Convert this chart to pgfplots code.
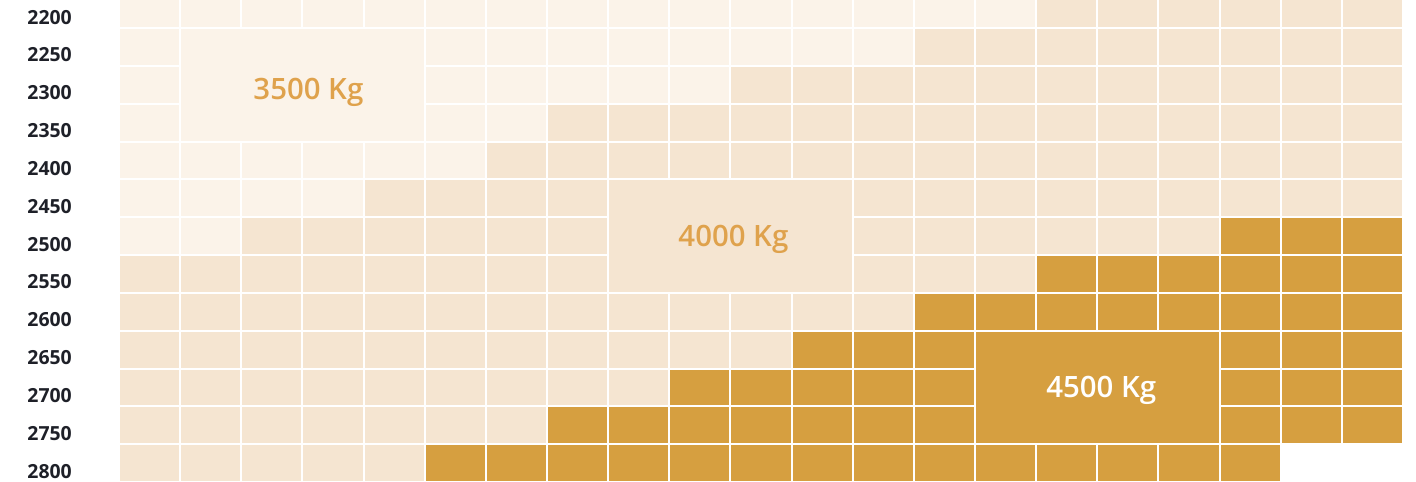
\documentclass[border=0pt]{standalone}
\usepackage{fontspec}
\setmainfont{Open Sans}
\IfFontExistsTF{Open Sans SemiBold}{\newfontfamily\semi{Open Sans SemiBold}}{%
  \IfFontExistsTF{Open Sans Semibold}{\newfontfamily\semi{Open Sans Semibold}}{\newcommand\semi{\bfseries}}}
\usepackage{pgfplots}
\pgfplotsset{compat=1.18}
\definecolor{cLight}{RGB}{251,243,233}
\definecolor{cMed}{RGB}{245,229,209}
\definecolor{cDark}{RGB}{214,159,64}
\definecolor{cText}{RGB}{223,162,76}
\definecolor{cTick}{RGB}{30,32,40}
\begin{document}
\begin{tikzpicture}
\begin{axis}[
  axis on top,
  at={(119bp,0bp)}, anchor=south west,
  scale only axis, width=1284bp, height=491.8bp,
  xbar stacked, bar width=1,
  xmin=0, xmax=21, ymin=-0.5, ymax=12.5, y dir=reverse,
  enlargelimits=false,
  axis line style={draw=none},
  major tick length=0pt, minor tick length=0pt,
  xtick={0,...,21}, xticklabels={},
  ytick={0,...,12},
  yticklabels={2200,2250,2300,2350,2400,2450,2500,2550,2600,2650,2700,2750,2800},
  minor ytick={-0.5,0.5,...,12.5},
  xmajorgrids=true, yminorgrids=true, ymajorgrids=false,
  grid style={white, line width=2bp},
  minor grid style={white, line width=2bp},
  yticklabel style={font=\fontsize{19.5}{19.5}\selectfont\bfseries, text=cTick, inner sep=0pt, anchor=east, xshift=-47bp, yshift=-8bp},
]
% light (3500 Kg) cells per row
\addplot[fill=cLight, draw=none] coordinates {
 (15,0) (13,1) (10,2) (7,3) (6,4) (4,5) (2,6) (0,7) (0,8) (0,9) (0,10) (0,11) (0,12)};
% medium (4000 Kg) cells per row
\addplot[fill=cMed, draw=none] coordinates {
 (6,0) (8,1) (11,2) (14,3) (15,4) (17,5) (16,6) (15,7) (13,8) (11,9) (9,10) (7,11) (5,12)};
% dark (4500 Kg) cells per row
\addplot[fill=cDark, draw=none] coordinates {
 (0,0) (0,1) (0,2) (0,3) (0,4) (0,5) (3,6) (6,7) (8,8) (10,9) (12,10) (14,11) (14,12)};

\coordinate (a1) at (axis cs:1,0.5);  \coordinate (a2) at (axis cs:5,3.5);  \coordinate (ac) at (axis cs:3,2);
\coordinate (b1) at (axis cs:8,4.5);  \coordinate (b2) at (axis cs:12,7.5); \coordinate (bc) at (axis cs:10,6);
\coordinate (c1) at (axis cs:14,8.5); \coordinate (c2) at (axis cs:18,11.5);\coordinate (cc) at (axis cs:16,10);
\end{axis}
\fill[cLight] ([xshift=1bp,yshift=-1bp]a1) rectangle ([xshift=-1bp,yshift=1bp]a2);
\fill[cMed] ([xshift=1bp,yshift=-1bp]b1) rectangle ([xshift=-1bp,yshift=1bp]b2);
\fill[cDark] ([xshift=1bp,yshift=-1bp]c1) rectangle ([xshift=-1bp,yshift=1bp]c2);
\node[font=\fontsize{29.5}{29.5}\selectfont\semi, text=cText, anchor=base, xshift=6bp, yshift=-14.5bp] at (ac) {3500 Kg};
\node[font=\fontsize{29.5}{29.5}\selectfont\semi, text=cText, anchor=base, xshift=3bp, yshift=-10.5bp] at (bc) {4000 Kg};
\node[font=\fontsize{29.5}{29.5}\selectfont\semi, text=white, anchor=base, xshift=4bp, yshift=-10.5bp] at (cc) {4500 Kg};
\pgfresetboundingbox
\useasboundingbox (0bp,0bp) rectangle (1416bp,482bp);
\end{tikzpicture}
\end{document}
